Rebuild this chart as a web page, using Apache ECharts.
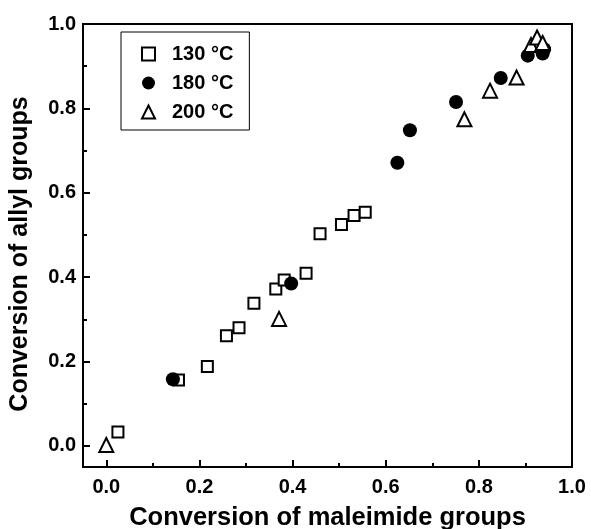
<!DOCTYPE html>
<html>
<head>
<meta charset="utf-8">
<script src="https://cdn.jsdelivr.net/npm/echarts@6/dist/echarts.min.js"></script>
<style>html,body{margin:0;padding:0;background:#fff;}#c{width:591px;height:529px;}</style>
</head>
<body>
<div id="c"></div>
<script>
const seriesNames = ['130 °C', '180 °C', '200 °C'];
const s130 = [[0.025,0.033],[0.155,0.156],[0.217,0.188],[0.258,0.261],[0.285,0.280],[0.317,0.338],[0.364,0.372],[0.382,0.393],[0.429,0.409],[0.459,0.503],[0.505,0.525],[0.532,0.546],[0.556,0.554]];
const s180 = [[0.143,0.158],[0.397,0.385],[0.625,0.671],[0.652,0.748],[0.751,0.815],[0.847,0.872],[0.905,0.925],[0.937,0.930],[0.940,0.940]];
const s200 = [[0.0,0.002],[0.371,0.301],[0.769,0.774],[0.824,0.842],[0.881,0.873],[0.912,0.950],[0.925,0.968],[0.937,0.955]];
const majorTicks = [0, 0.2, 0.4, 0.6, 0.8, 1.0];
const minorTicks = [0.1, 0.3, 0.5, 0.7, 0.9];
const xTitle = 'Conversion of maleimide groups';
const yTitle = 'Conversion of allyl groups';

const FONT = '"Liberation Sans", Arial, sans-serif';
const chart = echarts.init(document.getElementById('c'));
function axisPair(isX) {
  const base = {
    type: 'value', min: -0.05, max: 1.0,
    splitLine: {show: false}
  };
  const main = Object.assign({}, base, {
    position: isX ? 'bottom' : 'left',
    name: isX ? xTitle : yTitle,
    nameLocation: 'middle',
    nameMoveOverlap: false,
    nameGap: isX ? 38 : 50,
    nameTextStyle: isX ? {fontFamily: FONT, fontWeight: 'bold', fontSize: 25.5, color: '#000'}
                       : {fontFamily: FONT, fontWeight: 'bold', fontSize: 25, color: '#000', padding: [0, 17, 0, 0]},
    axisLine: {show: true, onZero: false, lineStyle: {color: '#000', width: 2}},
    axisTick: {show: true, inside: true, length: 7, lineStyle: {color: '#000', width: 2}, customValues: majorTicks},
    axisLabel: {show: true, customValues: majorTicks, margin: isX ? 10 : 7, fontFamily: FONT, fontWeight: 'bold', fontSize: 20, color: '#000',
      formatter: v => Number(v).toFixed(1)}
  });
  const minor = Object.assign({}, base, {
    position: isX ? 'bottom' : 'left',
    axisLine: {show: false, onZero: false},
    axisTick: {show: true, inside: true, length: 4, lineStyle: {color: '#000', width: 2}, customValues: minorTicks},
    axisLabel: {show: false}
  });
  return [main, minor];
}
const sym = {
  '130 °C': {symbol: 'rect', symbolSize: 11, itemStyle: {color: '#fff', borderColor: '#000', borderWidth: 2, opacity: 1}},
  '180 °C': {symbol: 'circle', symbolSize: 14, itemStyle: {color: '#000', borderColor: '#000', borderWidth: 0, opacity: 1}},
  '200 °C': {symbol: 'triangle', symbolSize: 14, itemStyle: {color: '#fff', borderColor: '#000', borderWidth: 2, opacity: 1}}
};
const datas = [s130, s180, s200];
chart.setOption({
  animation: false,
  grid: {left: 83, top: 24, width: 489, height: 443, show: true, borderColor: '#000', borderWidth: 2, backgroundColor: 'transparent', containLabel: false, outerBoundsMode: 'none'},
  xAxis: axisPair(true),
  yAxis: axisPair(false),
  legend: {
    orient: 'vertical', left: 121, top: 32,
    padding: [12, 16, 8, 20],
    itemWidth: 13, itemHeight: 13, itemGap: 9,
    borderColor: '#000', borderWidth: 1,
    textStyle: {fontFamily: FONT, fontWeight: 'bold', fontSize: 20, color: '#000', padding: [0, 0, 0, 12], lineHeight: 20},
    data: seriesNames
  },
  series: seriesNames.map((n, i) => Object.assign({
    name: n, type: 'scatter', xAxisIndex: 0, yAxisIndex: 0, data: datas[i]
  }, sym[n]))
});
</script>
</body>
</html>
